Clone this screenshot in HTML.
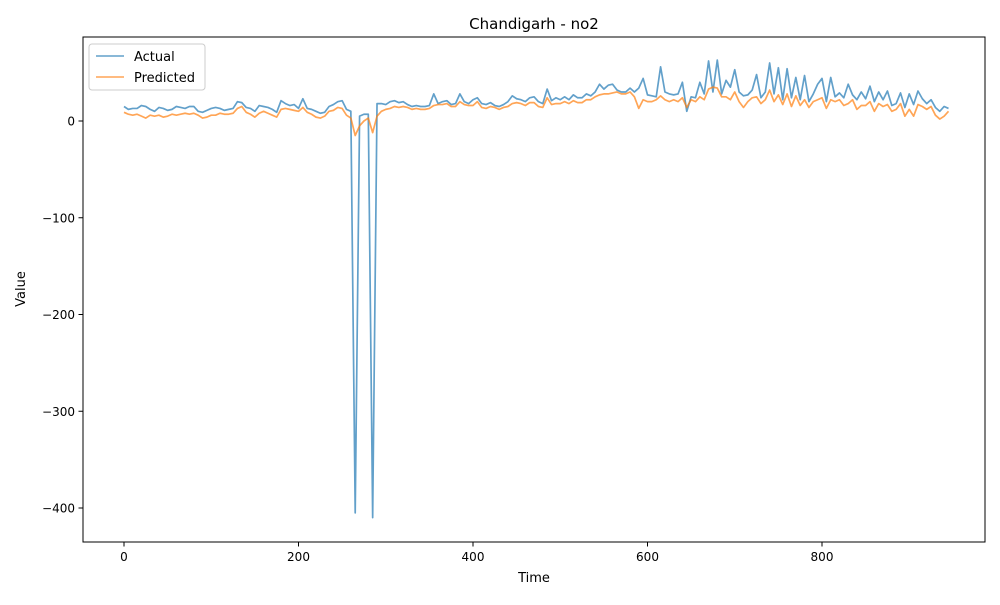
<!DOCTYPE html>
<html><head><meta charset="utf-8"><style>
body{margin:0;background:#fff;font-family:"Liberation Sans","DejaVu Sans",sans-serif;}
svg text{font-family:"DejaVu Sans","Liberation Sans",sans-serif;fill:#000;}
</style></head><body>
<svg id="chart" width="1000" height="600" viewBox="0 0 1000 600" xmlns="http://www.w3.org/2000/svg">
<rect width="1000" height="600" fill="#fff"/>
<text x="534" y="29" font-size="15" text-anchor="middle">Chandigarh - no2</text>
<g id="plot"></g>
<rect x="83" y="37" width="902" height="505" fill="none" stroke="#000" stroke-width="1"/>
<text x="534" y="582" font-size="13" text-anchor="middle">Time</text>
<text transform="translate(25,289) rotate(-90)" font-size="13" text-anchor="middle">Value</text>
<g>
<rect x="89" y="44" width="116" height="46" rx="3" fill="#fff" fill-opacity="0.8" stroke="#ccc"/>
<line x1="96" y1="56" x2="124" y2="56" stroke="#1f77b4" stroke-opacity="0.7" stroke-width="1.5"/>
<text x="134" y="61" font-size="13">Actual</text>
<line x1="96" y1="77" x2="124" y2="77" stroke="#ff7f0e" stroke-opacity="0.7" stroke-width="1.5"/>
<text x="134" y="82" font-size="13">Predicted</text>
</g>
</svg>
<script>
const step = 5;
const actual = [15,12,13,13,16,15,12,10,14,13,
11,12,15,14,13,15,15,10,9,11,
13,14,13,11,12,13,20,19,14,13,
10,16,15,14,12,9,21,18,16,17,
13,23,13,12,10,8,9,15,17,20,
21,12,10,-405,5,7,7,-410,18,18,
17,20,21,19,20,17,15,16,15,15,
16,28,18,20,21,17,18,28,20,18,
22,24,18,17,19,16,15,17,20,26,
23,22,20,24,25,20,18,33,21,24,
22,25,22,27,24,24,28,26,30,38,
33,37,38,32,30,30,34,30,34,44,
27,26,25,56,30,28,27,28,40,10,
25,24,40,28,62,30,63,28,42,35,
53,30,26,27,32,48,24,30,60,28,
55,22,54,24,45,22,47,20,28,38,
44,20,45,25,29,24,38,27,22,30,
23,36,20,30,22,31,16,18,29,14,
28,17,31,23,18,22,14,10,15,13];
const predicted = [9,7,6,7,5,3,6,5,6,4,
5,7,6,7,8,7,8,6,3,4,
6,6,8,7,7,8,13,15,9,7,
4,8,10,8,6,4,12,13,12,11,
10,14,9,7,4,3,5,10,11,14,
13,6,3,-15,-5,0,3,-12,5,10,
12,13,15,14,15,14,12,13,12,12,
13,16,17,17,18,15,15,20,17,16,
16,20,14,13,15,14,12,14,15,18,
19,18,16,19,19,15,14,24,17,18,
18,20,18,21,19,19,22,22,25,27,
28,28,29,30,28,28,30,25,13,22,
20,20,22,26,22,20,22,20,24,14,
22,20,25,22,33,35,34,25,25,22,
30,20,14,20,24,25,18,22,32,20,
27,17,28,15,26,16,22,14,20,22,
24,13,22,20,22,16,18,22,12,16,
16,20,10,18,15,17,10,12,18,5,
12,5,17,15,12,15,6,2,5,10];
const xTicks = [0,200,400,600,800];
const yTicks = [0,-100,-200,-300,-400];

const NS = "http://www.w3.org/2000/svg";
const X = t => 124 + t * (698 / 800);
const Y = v => 121 - v * (387 / 400);
const plot = document.getElementById('plot');
const svg = document.getElementById('chart');

xTicks.forEach(t => {
  const l = document.createElementNS(NS, 'line');
  
  
  l.setAttribute('x1', X(t)); l.setAttribute('x2', X(t));
  l.setAttribute('y1', 542); l.setAttribute('y2', 546.5);
  l.setAttribute('stroke', '#000');
  svg.appendChild(l);
  const tx = document.createElementNS(NS, 'text');
  
  
  tx.setAttribute('x', X(t)); tx.setAttribute('y', 561);
  tx.setAttribute('font-size', '12'); tx.setAttribute('text-anchor', 'middle');
  tx.textContent = String(t);
  svg.appendChild(tx);
});
yTicks.forEach(v => {
  const l = document.createElementNS(NS, 'line');
  
  
  l.setAttribute('x1', 78.5); l.setAttribute('x2', 83);
  l.setAttribute('y1', Y(v)); l.setAttribute('y2', Y(v));
  l.setAttribute('stroke', '#000');
  svg.appendChild(l);
  const tx = document.createElementNS(NS, 'text');
  
  
  tx.setAttribute('x', 75); tx.setAttribute('y', Y(v) + 4.5);
  tx.setAttribute('font-size', '12'); tx.setAttribute('text-anchor', 'end');
  tx.textContent = v < 0 ? '\u2212' + Math.abs(v) : String(v);
  svg.appendChild(tx);
});

function series(vals, color, name) {
  const p = document.createElementNS(NS, 'polyline');
  
  
  p.setAttribute('points', vals.map((v, i) => X(i * step).toFixed(2) + ',' + Y(v).toFixed(2)).join(' '));
  p.setAttribute('fill', 'none');
  p.setAttribute('stroke', color);
  p.setAttribute('stroke-opacity', '0.7');
  p.setAttribute('stroke-width', '1.7');
  p.setAttribute('stroke-linejoin', 'round');
  plot.appendChild(p);
}
series(actual, '#1f77b4', 'actual-line');
series(predicted, '#ff7f0e', 'predicted-line');
</script>
</body></html>
